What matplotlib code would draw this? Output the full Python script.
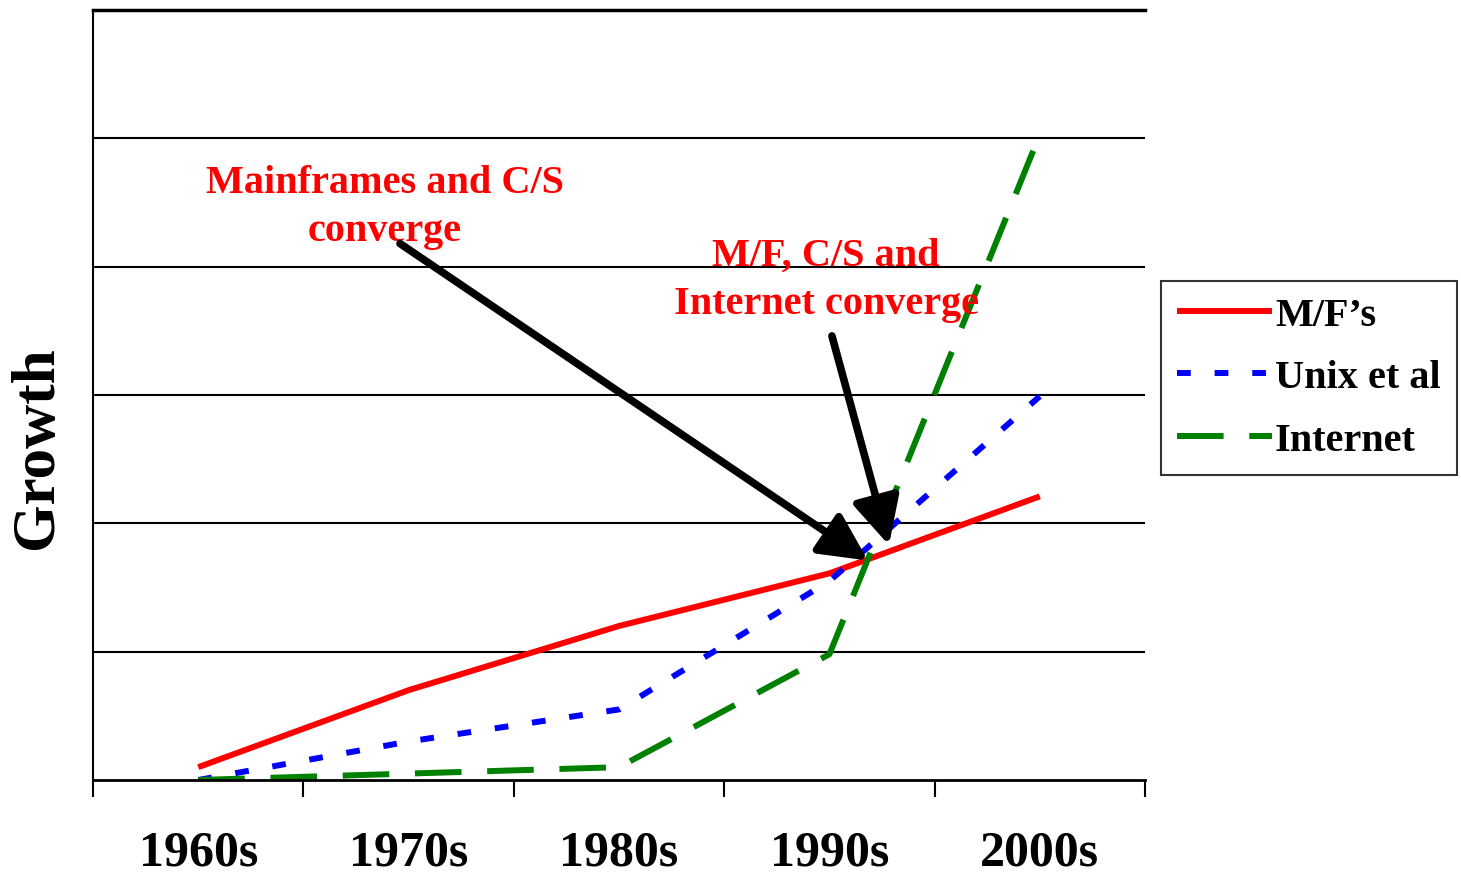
import numpy as np
import matplotlib
matplotlib.use('Agg')
import matplotlib.pyplot as plt

decades = ['1960s', '1970s', '1980s', '1990s', '2000s']
mainframes = [0.1, 0.70, 1.20, 1.61, 2.21]
unix = [0.0, 0.30, 0.55, 1.55, 2.99]
internet = [0.0, 0.05, 0.10, 0.98, 5.03]

plt.rcParams['font.family'] = 'Liberation Serif'
plt.rcParams['font.weight'] = 'bold'

fig = plt.figure(figsize=(14.61, 8.79), dpi=100)
ax = fig.add_axes([0.0637, 0.1115, 0.72, 0.876])

x = np.arange(len(decades))
ax.plot(x, mainframes, color='red', lw=4.3, label='M/F\u2019s', solid_capstyle='butt')
ax.plot(x, unix, color='blue', lw=4.3, dashes=(2.3, 4.0), label='Unix et al')
ax.plot(x, internet, color='green', lw=4.3, dashes=(7.8, 4.3), label='Internet')

ax.set_xlim(-0.5, 4.5)
ax.set_ylim(0, 6)
for yv in range(1, 6):
    ax.axhline(yv, color='black', lw=1.5, zorder=0)
ax.axhline(6, color='black', lw=2.5, clip_on=False, zorder=0)

ax.set_yticks([])
ax.set_xticks(np.arange(-0.5, 5, 1))
ax.set_xticklabels([])
ax.set_xticks(x, minor=True)
ax.set_xticklabels(decades, minor=True, fontsize=36, fontweight='bold')
ax.tick_params(axis='x', which='major', length=12, width=1.5, direction='out')
ax.tick_params(axis='x', which='minor', length=0, pad=36)
for s in ['top', 'right']:
    ax.spines[s].set_visible(False)
ax.spines['left'].set_linewidth(1.5)
ax.spines['bottom'].set_linewidth(2)

fig.text(37 / 1461, 1 - 448 / 879, 'Growth', rotation=90, ha='center', va='center',
         fontsize=44, fontweight='bold')

ax.text(0.888, 4.47, 'Mainframes and C/S\nconverge', color='red', fontsize=29,
        fontweight='bold', ha='center', va='center', linespacing=1.4)
ax.text(2.984, 3.90, 'M/F, C/S and\nInternet converge', color='red', fontsize=29,
        fontweight='bold', ha='center', va='center', linespacing=1.4)

ax.annotate('', xy=(3.183, 1.71), xytext=(0.959, 4.18),
            arrowprops=dict(arrowstyle='-|>', lw=5.5, color='black', mutation_scale=72,
                            shrinkA=0, shrinkB=0))
ax.annotate('', xy=(3.283, 1.83), xytext=(3.012, 3.46),
            arrowprops=dict(arrowstyle='-|>', lw=5.5, color='black', mutation_scale=72,
                            shrinkA=0, shrinkB=0))

leg = fig.legend(loc='upper left', bbox_to_anchor=(1161 / 1461, 1 - 282 / 879),
                 borderaxespad=0, frameon=True, fancybox=False, handlelength=2.35,
                 handletextpad=0.08, borderpad=0.4, labelspacing=0.62,
                 prop={'family': 'Liberation Serif', 'weight': 'bold', 'size': 29})
leg.get_frame().set_edgecolor('black')
leg.get_frame().set_linewidth(1.5)

fig.savefig('out.png', dpi=100)
